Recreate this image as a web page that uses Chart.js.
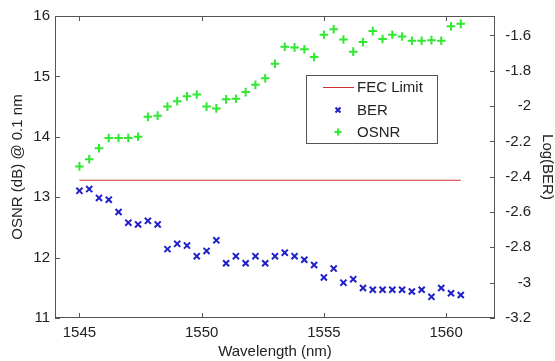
<!DOCTYPE html>
<html>
<head>
<meta charset="utf-8">
<script src="https://cdn.jsdelivr.net/npm/chart.js@4/dist/chart.umd.min.js"></script>
<style>
  html, body { margin: 0; padding: 0; background: #fff; }
  #wrap { width: 555px; height: 361px; }
</style>
</head>
<body>
<div id="wrap"><canvas id="osnr_ber"></canvas></div>
<script>
// values
const wavelength = [1545, 1545.4, 1545.8, 1546.2, 1546.6, 1547, 1547.4, 1547.8, 1548.2, 1548.6,
  1549, 1549.4, 1549.8, 1550.2, 1550.6, 1551, 1551.4, 1551.8, 1552.2, 1552.6,
  1553, 1553.4, 1553.8, 1554.2, 1554.6, 1555, 1555.4, 1555.8, 1556.2, 1556.6,
  1557, 1557.4, 1557.8, 1558.2, 1558.6, 1559, 1559.4, 1559.8, 1560.2, 1560.6];
const log_ber = [-2.48, -2.47, -2.52, -2.53, -2.60, -2.66, -2.67, -2.65, -2.67, -2.81,
  -2.78, -2.79, -2.85, -2.82, -2.76, -2.89, -2.85, -2.89, -2.85, -2.89,
  -2.85, -2.83, -2.85, -2.87, -2.90, -2.97, -2.92, -3.00, -2.98, -3.03,
  -3.04, -3.04, -3.04, -3.04, -3.05, -3.04, -3.08, -3.03, -3.06, -3.07];
const osnr = [13.51, 13.63, 13.81, 13.98, 13.98, 13.98, 14.00, 14.33, 14.35, 14.50,
  14.59, 14.67, 14.70, 14.50, 14.47, 14.62, 14.63, 14.74, 14.86, 14.97,
  15.21, 15.49, 15.48, 15.45, 15.32, 15.69, 15.78, 15.61, 15.41, 15.57,
  15.75, 15.62, 15.69, 15.66, 15.59, 15.59, 15.60, 15.59, 15.83, 15.87];
const fec_limit = -2.42;
const fec_span = [1545, 1560.6];

const x_ticks = [1545, 1550, 1555, 1560];
const osnr_ticks = [11, 12, 13, 14, 15, 16];
const ber_ticks = [-3.2, -3, -2.8, -2.6, -2.4, -2.2, -2, -1.8, -1.6];

const font = {family: "'Liberation Sans', Arial, sans-serif", size: 15};
const txt = '#222';

// MATLAB style box with inward ticks
const frame = {
  id: 'frame',
  afterDraw(chart) {
    const {ctx, chartArea: a, scales} = chart;
    ctx.save();
    ctx.strokeStyle = '#555';
    ctx.lineWidth = 1;
    ctx.strokeRect(a.left + 0.5, a.top + 0.5, a.right - a.left - 1, a.bottom - a.top - 1);
    ctx.beginPath();
    scales.x.ticks.forEach(t => {
      const px = Math.round(scales.x.getPixelForValue(t.value)) + 0.5;
      ctx.moveTo(px, a.bottom); ctx.lineTo(px, a.bottom - 5);
      ctx.moveTo(px, a.top); ctx.lineTo(px, a.top + 5);
    });
    scales.y.ticks.forEach(t => {
      const py = Math.round(scales.y.getPixelForValue(t.value)) + 0.5;
      ctx.moveTo(a.left, py); ctx.lineTo(a.left + 5, py);
    });
    scales.y2.ticks.forEach(t => {
      const py = Math.round(scales.y2.getPixelForValue(t.value)) + 0.5;
      ctx.moveTo(a.right, py); ctx.lineTo(a.right - 5, py);
    });
    ctx.stroke();

    // legend box inside the plot
    const bx = 306, by = 75, bw = 131, bh = 68;
    ctx.fillStyle = '#fff';
    ctx.fillRect(bx, by, bw, bh);
    ctx.strokeStyle = '#555';
    ctx.strokeRect(bx + 0.5, by + 0.5, bw, bh);
    ctx.font = font.size + 'px ' + font.family;
    ctx.textBaseline = 'middle';
    ctx.textAlign = 'left';
    const rows = [87, 110, 132];
    chart.data.datasets.forEach((ds, i) => {
      const cy = rows[i];
      ctx.strokeStyle = ds.borderColor;
      ctx.lineWidth = ds.pointStyle ? ds.borderWidth : 1;
      ctx.beginPath();
      if (!ds.pointStyle) {
        ctx.moveTo(323, cy + 0.5); ctx.lineTo(354, cy + 0.5);
      } else if (ds.pointStyle == 'cross') {
        ctx.moveTo(338 - 3.5, cy); ctx.lineTo(338 + 3.5, cy);
        ctx.moveTo(338, cy - 3.5); ctx.lineTo(338, cy + 3.5);
      } else {
        ctx.moveTo(338 - 2.5, cy - 2.5); ctx.lineTo(338 + 2.5, cy + 2.5);
        ctx.moveTo(338 - 2.5, cy + 2.5); ctx.lineTo(338 + 2.5, cy - 2.5);
      }
      ctx.stroke();
      ctx.fillStyle = txt;
      ctx.fillText(ds.label, 357, cy + 1);
    });
    ctx.restore();
  }
};

new Chart(document.getElementById('osnr_ber'), {
  type: 'scatter',
  data: {
    datasets: [{
      label: 'FEC Limit',
      data: fec_span.map(w => ({x: w, y: fec_limit})),
      showLine: true,
      borderColor: '#d03030',
      borderWidth: 1,
      pointRadius: 0,
      yAxisID: 'y2'
    }, {
      label: 'BER',
      data: wavelength.map((w, i) => ({x: w, y: log_ber[i]})),
      pointStyle: 'crossRot',
      pointRadius: 4.3,
      borderColor: '#2020c8',
      borderWidth: 2,
      yAxisID: 'y2'
    }, {
      label: 'OSNR',
      data: wavelength.map((w, i) => ({x: w, y: osnr[i]})),
      pointStyle: 'cross',
      pointRadius: 4.3,
      borderColor: '#30e830',
      borderWidth: 2,
      yAxisID: 'y'
    }]
  },
  options: {
    responsive: true,
    maintainAspectRatio: false,
    animation: false,
    layout: {padding: {top: 16, left: 0, right: 24, bottom: 0}},
    plugins: {legend: {display: false}, tooltip: {enabled: false}},
    scales: {
      x: {
        type: 'linear', min: 1544, max: 1562,
        afterBuildTicks: s => { s.ticks = x_ticks.map(v => ({value: v})); },
        afterFit: s => { s.height = 43; },
        grid: {display: false, drawTicks: false}, border: {display: false},
        ticks: {font: font, color: txt, padding: 6, maxRotation: 0, callback: v => String(v)},
        title: {display: true, text: 'Wavelength (nm)', font: font, color: txt, padding: {top: 0, bottom: 0}}
      },
      y: {
        position: 'left', min: 11, max: 16,
        afterBuildTicks: s => { s.ticks = osnr_ticks.map(v => ({value: v})); },
        afterFit: s => { s.width = 55; },
        grid: {display: false, drawTicks: false}, border: {display: false},
        ticks: {font: font, color: txt, padding: 5, callback: v => String(v)},
        title: {display: true, text: 'OSNR (dB) @ 0.1 nm', font: font, color: txt, padding: {top: 9, bottom: 0}}
      },
      y2: {
        position: 'right', min: -3.2, max: -1.49,
        afterBuildTicks: s => { s.ticks = ber_ticks.map(v => ({value: v})); },
        afterFit: s => { s.width = 36; },
        grid: {display: false, drawTicks: false}, border: {display: false},
        ticks: {font: font, color: txt, padding: 7, crossAlign: 'far', callback: v => String(Math.round(v * 10) / 10)},
        title: {display: true, text: 'Log(BER)', font: font, color: txt, padding: {top: -25, bottom: 0}}
      }
    }
  },
  plugins: [frame]
});
</script>
</body>
</html>
